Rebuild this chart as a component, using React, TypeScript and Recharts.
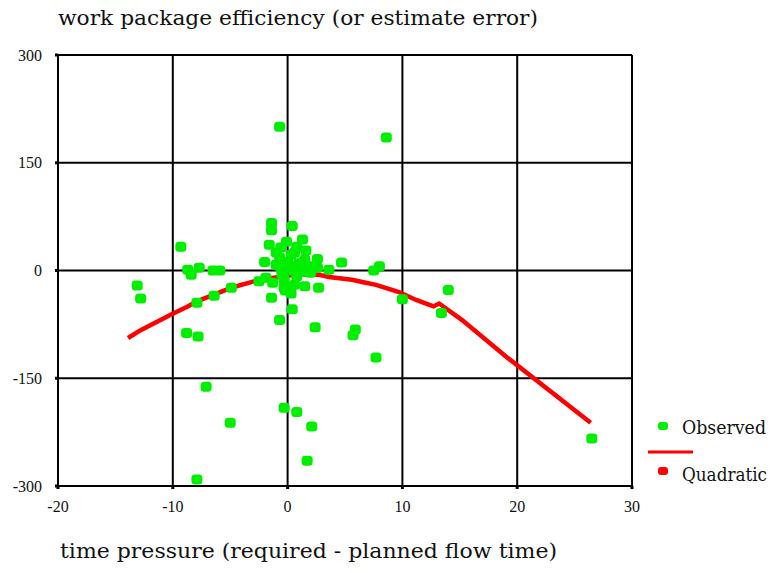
import React from 'react';
import { ScatterChart, Scatter, XAxis, YAxis, CartesianGrid } from 'recharts';

const xTicks = [-20, -10, 0, 10, 20, 30];
const yTicks = [-300, -150, 0, 150, 300];

const observedX = [
  -0.7, 8.6, -9.3, -13.1, -12.8, -8.7, -8.4, -7.7, -6.5, -5.9,
  -7.9, -8.8, -7.8, -7.1, -6.4, -4.9, -5.0, -7.9, -1.4, -1.4,
  0.4, -1.6, -0.6, -0.1, 0.8, 1.3, -2.0, -0.7, 0.3, 1.5,
  2.6, 3.6, -0.6, 0.6, 1.9, -2.5, -1.9, -1.3, -0.3, 0.8,
  2.0, 2.6, -0.3, 0.6, 1.5, 2.7, -1.4, 0.3, 0.4, -0.7,
  2.4, 4.7, 7.5, 8.0, 5.9, 5.7, 7.7, 10.0, 13.4, 14.0,
  -0.3, 0.8, 2.1, 1.7, 26.5, -1.0, 0.0, 1.0, -0.5, 1.2,
  0.6, -1.0, 1.6, 0.2, -0.2,
];
const observedY = [
  200, 185, 33, -21, -39, 1, -6, 4, 0, 0,
  -45, -87, -92, -162, -35, -24, -212, -291, 66, 56,
  62, 36, 32, 40, 33, 43, 12, 18, 22, 15,
  16, 1, 4, 6, 6, -15, -10, -17, -13, -8,
  -3, 4, -24, -20, -22, -24, -38, -32, -54, -69,
  -79, 11, 0, 6, -82, -90, -121, -40, -59, -27,
  -191, -197, -217, -265, -234, 8, 12, 10, -5, -2,
  25, 25, 28, 0, -28,
];

const quadX = [-13.9, -12.8, -10.1, -8.7, -7.9, -6.3, -4.9, -2.7, -1.2, -0.7, 0.5, 2.75, 3.6, 5.6, 6.5, 7.7, 9.7, 11.2, 12.7, 13.2, 15.2, 19.2, 26.4];
const quadY = [-94, -83, -61, -50, -43, -33, -24, -14, -10, -9, -6, -6, -9, -13, -16, -20, -30, -41, -50, -46, -69, -122, -212];

const observed = observedX.map((x, i) => ({ x, y: observedY[i] }));
const quadratic = quadX.map((x, i) => ({ x, y: quadY[i] }));

const GREEN = '#00ee00';
const RED = '#ff0000';

const GreenMark = (props: any) => {
  const { cx, cy } = props;
  if (cx == null || cy == null) return <g />;
  return <rect x={cx - 5.5} y={cy - 5} width={11} height={10} rx={3.5} ry={3.5} fill={GREEN} />;
};

const NoMark = () => <g />;

const tickStyle = { fontFamily: '"Liberation Serif", serif', fontSize: 16, fill: '#111' };

export default function App() {
  return (
    <div style={{ position: 'absolute', left: 0, top: 0, width: 772, height: 573, background: '#fff' }}>
      <ScatterChart
        width={772}
        height={573}
        margin={{ top: 55, right: 140, bottom: 56, left: 0 }}
      >
        <CartesianGrid stroke="#000" strokeWidth={2} horizontalValues={yTicks} verticalValues={xTicks} />
        <XAxis
          type="number"
          dataKey="x"
          domain={[-20, 30]}
          ticks={xTicks}
          height={31}
          tick={tickStyle}
          tickSize={3}
          tickMargin={12}
          tickLine={{ stroke: '#000', strokeWidth: 3 }}
          axisLine={{ stroke: '#000', strokeWidth: 2 }}
          allowDataOverflow
        />
        <YAxis
          type="number"
          dataKey="y"
          domain={[-300, 300]}
          ticks={yTicks}
          width={58}
          tick={tickStyle}
          tickSize={3}
          tickMargin={13}
          tickLine={{ stroke: '#000', strokeWidth: 3 }}
          axisLine={{ stroke: '#000', strokeWidth: 2 }}
          allowDataOverflow
        />
        <Scatter
          name="Quadratic"
          data={quadratic}
          line={{ stroke: RED, strokeWidth: 4.5 }}
          lineJointType="linear"
          shape={NoMark}
          isAnimationActive={false}
        />
        <Scatter
          name="Observed"
          data={observed}
          shape={GreenMark}
          isAnimationActive={false}
        />
      </ScatterChart>
      <svg
        width={772}
        height={573}
        style={{ position: 'absolute', left: 0, top: 0, pointerEvents: 'none' }}
      >
        <text x={58} y={25} fontFamily='"DejaVu Serif", serif' fontSize={20} fill="#111" textLength={480} lengthAdjust="spacingAndGlyphs">
          work package efficiency (or estimate error)
        </text>
        <text x={60} y={558} fontFamily='"DejaVu Serif", serif' fontSize={20} fill="#111" textLength={497} lengthAdjust="spacingAndGlyphs">
          time pressure (required - planned flow time)
        </text>
        <rect x={658} y={422} width={10} height={8} rx={3} ry={3} fill={GREEN} />
        <text x={682} y={434} fontFamily='"DejaVu Serif", serif' fontSize={18} fill="#111" textLength={84} lengthAdjust="spacingAndGlyphs">
          Observed
        </text>
        <line x1={648} y1={452} x2={693} y2={452} stroke={RED} strokeWidth={3} />
        <rect x={658} y={467} width={10} height={8} rx={3} ry={3} fill={RED} />
        <text x={682} y={481} fontFamily='"DejaVu Serif", serif' fontSize={18} fill="#111" textLength={85} lengthAdjust="spacingAndGlyphs">
          Quadratic
        </text>
      </svg>
    </div>
  );
}
